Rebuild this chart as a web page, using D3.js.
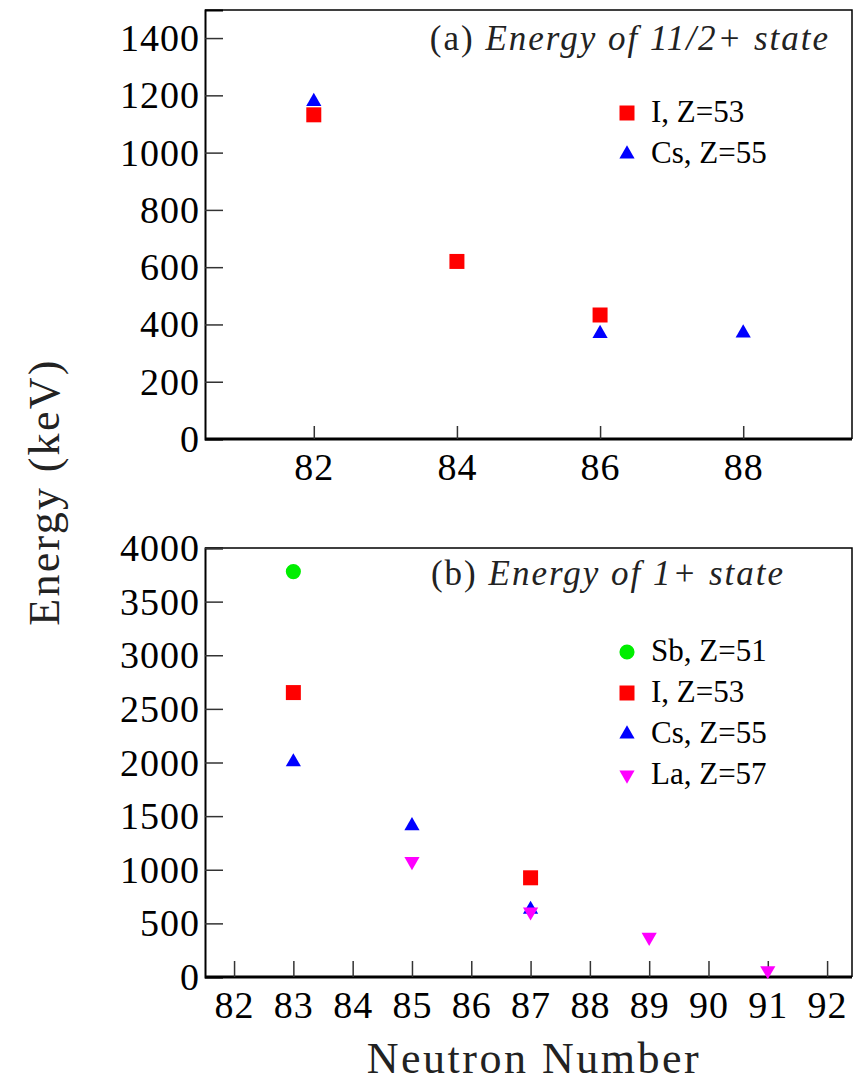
<!DOCTYPE html>
<html>
<head>
<meta charset="utf-8">
<script src="https://cdn.jsdelivr.net/npm/d3@7"></script>
<style>
  html, body { margin: 0; padding: 0; background: #fff; }
  svg { display: block; }
  svg text { font-family: "Liberation Serif", Tinos, "Times New Roman", Times, serif; }
</style>
</head>
<body>
<svg id="chart" width="854" height="1084"></svg>
<script>
// ---- Panel (a): energy of the 11/2+ state ----
const topTicksX = [82, 84, 86, 88];
const topTicksY = [0, 200, 400, 600, 800, 1000, 1200, 1400];
const topI_N  = [82, 84, 86];
const topI_E  = [1132, 620, 433];
const topCs_N = [82, 86, 88];
const topCs_E = [1178, 368, 370];

// ---- Panel (b): energy of the 1+ state ----
const botTicksX = [82, 83, 84, 85, 86, 87, 88, 89, 90, 91, 92];
const botTicksY = [0, 500, 1000, 1500, 2000, 2500, 3000, 3500, 4000];
const botSb_N = [83];
const botSb_E = [3780];
const botI_N  = [83, 87];
const botI_E  = [2652, 925];
const botCs_N = [83, 85, 87];
const botCs_E = [2005, 1410, 630];
const botLa_N = [85, 87, 89, 91];
const botLa_E = [1078, 608, 372, 60];

const topLegend = ["I, Z=53", "Cs, Z=55"];
const botLegend = ["Sb, Z=51", "I, Z=53", "Cs, Z=55", "La, Z=57"];

const svg = d3.select("#chart");

const markers = {
  square:   { type: d3.symbolSquare,   size: 225, color: "#ff0000", rot: 0 },
  triangle: { type: d3.symbolTriangle, size: 100, color: "#0000ff", rot: 0 },
  circle:   { type: d3.symbolCircle,   size: 180, color: "#00ee00", rot: 0 },
  invtri:   { type: d3.symbolTriangle, size: 100, color: "#ff00ff", rot: 180 }
};

function drawMarker(g, kind, x, y) {
  const m = markers[kind];
  g.append("path")
    .attr("d", d3.symbol().type(m.type).size(m.size)())
    .attr("transform", `translate(${x},${y}) rotate(${m.rot})`)
    .attr("fill", m.color);
}

function panel(opts) {
  const { left, right, top, bottom, xDomain, yDomain, xTicks, yTicks, series, legend, title, legendX, legendY, legendStep } = opts;
  const x = d3.scaleLinear().domain(xDomain).range([left, right]);
  const y = d3.scaleLinear().domain(yDomain).range([bottom, top]);
  const g = svg.append("g");

  // frame on top and right
  g.append("path")
    .attr("d", `M${left},${top}H${right}V${bottom}`)
    .attr("fill", "none").attr("stroke", "#000").attr("stroke-width", 1.5);

  // left axis with inward ticks
  const yAxis = d3.axisRight(y).tickValues(yTicks).tickSize(18).tickFormat("");
  const ya = g.append("g").attr("transform", `translate(${left},0)`).call(yAxis);
  ya.select(".domain").attr("stroke-width", 2);
  ya.selectAll(".tick line").attr("stroke", "#333").attr("stroke-width", 1.5);
  g.selectAll(".ylab").data(yTicks).join("text")
    .attr("x", left - 5).attr("y", d => y(d) + 13)
    .attr("text-anchor", "end").attr("font-size", 38).attr("letter-spacing", 1)
    .text(d => d);

  // bottom axis with inward ticks
  const xAxis = d3.axisTop(x).tickValues(xTicks).tickSize(opts.xTickLen).tickFormat("");
  const xa = g.append("g").attr("transform", `translate(0,${bottom})`).call(xAxis);
  xa.select(".domain").attr("d", `M${left},0H${right}`).attr("stroke-width", 3);
  xa.selectAll(".tick line").attr("stroke", "#333").attr("stroke-width", 1.5);
  g.selectAll(".xlab").data(xTicks).join("text")
    .attr("x", d => x(d) + 0.5).attr("y", bottom + 41)
    .attr("text-anchor", "middle").attr("font-size", 38).attr("letter-spacing", 1)
    .text(d => d);

  // title
  const t = g.append("text").attr("x", opts.titleX).attr("y", opts.titleY)
    .attr("text-anchor", "end").attr("font-size", 35).attr("letter-spacing", 2)
    .attr("fill", "#222");
  t.append("tspan").text(title[0] + " ");
  t.append("tspan").attr("font-style", "italic").text(title[1]);

  // data
  series.forEach(s => {
    s.n.forEach((n, i) => drawMarker(g, s.kind, x(n), y(s.e[i])));
  });

  // legend
  legend.forEach((lab, i) => {
    const ly = legendY + i * legendStep;
    drawMarker(g, series[i].kind, legendX, ly);
    g.append("text").attr("x", legendX + 24).attr("y", ly + 9)
      .attr("font-size", 31).text(lab);
  });
}

panel({
  left: 205, right: 852, top: 10, bottom: 439,
  xDomain: [80.48, 89.52], yDomain: [0, 1498],
  xTicks: topTicksX, yTicks: topTicksY, xTickLen: 13,
  series: [
    { kind: "square", n: topI_N, e: topI_E },
    { kind: "triangle", n: topCs_N, e: topCs_E }
  ],
  legend: topLegend, legendX: 627, legendY: 113, legendStep: 41,
  title: ["(a)", "Energy of 11/2+ state"], titleX: 830, titleY: 50
});

panel({
  left: 205, right: 852, top: 548, bottom: 977,
  xDomain: [81.51, 92.42], yDomain: [0, 4000],
  xTicks: botTicksX, yTicks: botTicksY, xTickLen: 16,
  series: [
    { kind: "circle", n: botSb_N, e: botSb_E },
    { kind: "square", n: botI_N, e: botI_E },
    { kind: "triangle", n: botCs_N, e: botCs_E },
    { kind: "invtri", n: botLa_N, e: botLa_E }
  ],
  legend: botLegend, legendX: 627, legendY: 652, legendStep: 41,
  title: ["(b)", "Energy of 1+ state"], titleX: 785, titleY: 585
});

// shared axis titles
svg.append("text")
  .attr("transform", "translate(59,492) rotate(-90)")
  .attr("text-anchor", "middle").attr("font-size", 44).attr("letter-spacing", 2.3)
  .attr("fill", "#222")
  .text("Energy (keV)");
svg.append("text")
  .attr("x", 534).attr("y", 1073)
  .attr("text-anchor", "middle").attr("font-size", 44).attr("letter-spacing", 2.5)
  .attr("fill", "#222")
  .text("Neutron Number");
</script>
</body>
</html>
